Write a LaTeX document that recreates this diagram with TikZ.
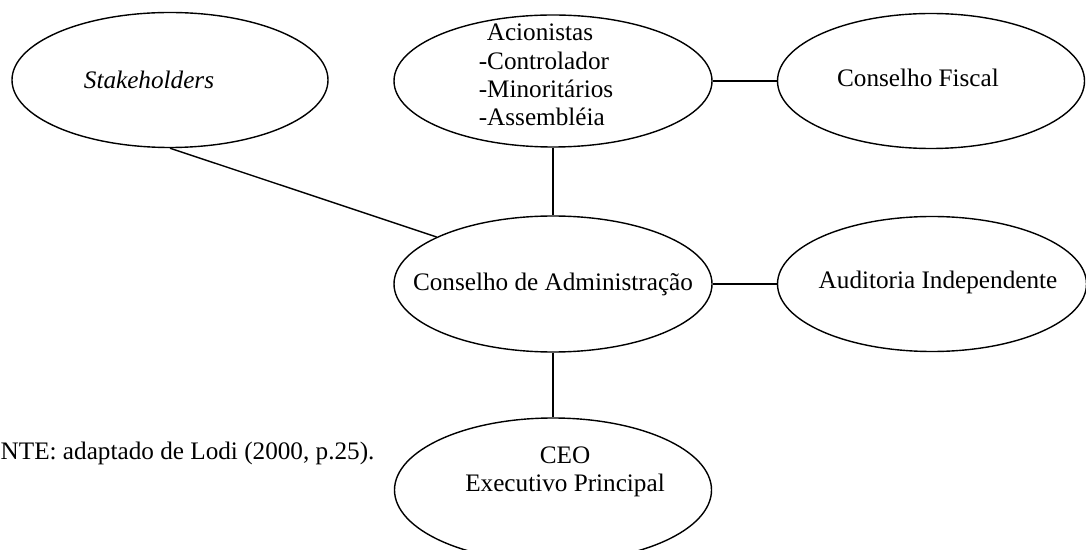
\documentclass[tikz,border=0pt]{standalone}
\usepackage{fontspec}
\setmainfont{Liberation Serif}
\usetikzlibrary{shapes.geometric}
\begin{document}
\begin{tikzpicture}[x=0.5pt,y=-0.5pt,line width=0.7pt,
    orgao/.style={ellipse, draw, inner sep=0pt},
    every label/.style={font=\fontsize{12.6}{14.2}\selectfont, inner sep=0pt}]
            \useasboundingbox (0,0) rectangle (1086,550);
            \clip (0,0) rectangle (1086,550);
            \node[orgao, minimum width=158pt, minimum height=67.5pt,
                label={[xshift=-10.5pt]center:\textit{Stakeholders}}] (stake) at (170,80) {};
            \node[orgao, minimum width=159pt, minimum height=66pt,
                label={[align=left, xshift=-3.5pt, yshift=3pt]center:\hspace*{4pt}Acionistas\\-Controlador\\-Minoritários\\-Assembléia}] (acion) at (553,81) {};
            \node[orgao, minimum width=153.5pt, minimum height=67.5pt,
                label={[xshift=-6.5pt, yshift=1.5pt]center:Conselho Fiscal}] (fiscal) at (931,81) {};
            \node[orgao, minimum width=159pt, minimum height=68pt,
                label={center:Conselho de Administração}] (admin) at (553,284) {};
            \node[orgao, minimum width=154.5pt, minimum height=67.5pt,
                label={[xshift=3pt, yshift=1pt]center:Auditoria Independente}] (audit) at (932,284) {};
            \node[orgao, minimum width=158.5pt, minimum height=72pt,
                label={[align=center, xshift=6pt, yshift=9pt]center:CEO\\Executivo Principal}] (ceo) at (553,490) {};
            \node[anchor=west, inner sep=0pt, font=\fontsize{12.6}{14.2}\selectfont] (fonte) at (0,453) {NTE: adaptado de Lodi (2000, p.25).};
            %ligacoes
            \draw (stake.south) -- (admin.158);
            \draw (acion.south) -- (admin.north);
            \draw (acion.east) -- (fiscal.west);
            \draw (admin.east) -- (audit.west);
            \draw (admin.south) -- (ceo.north);
        \end{tikzpicture}
\end{document}
